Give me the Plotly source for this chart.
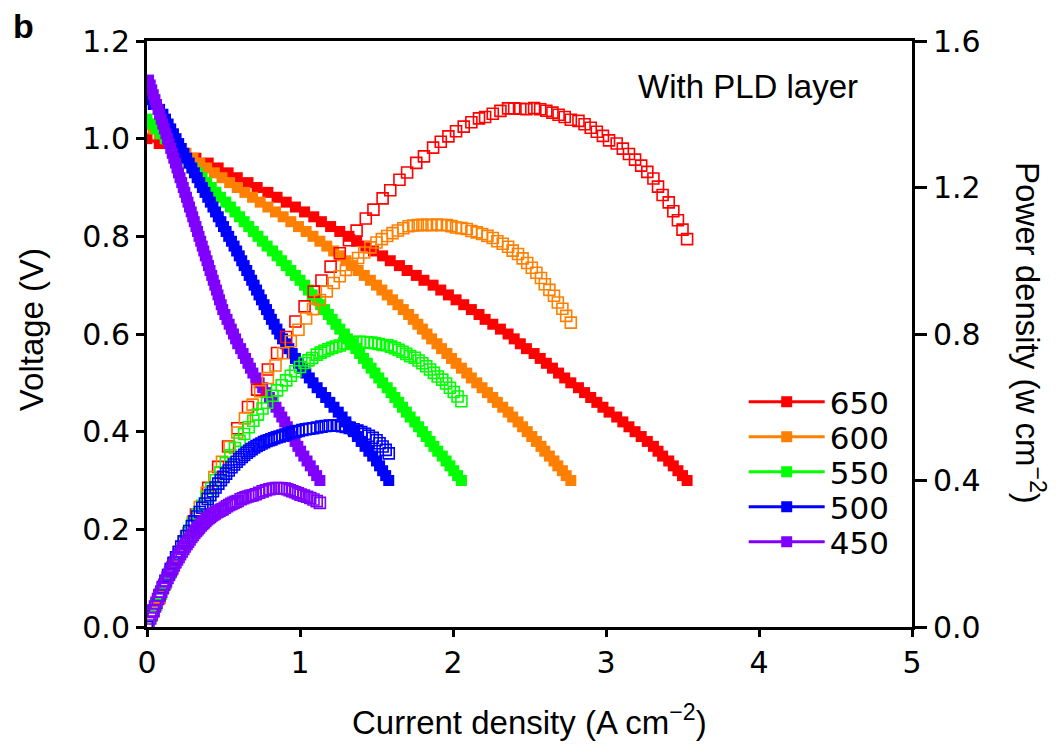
import plotly.graph_objects as go

# Cell voltage levels (V) of the sweeps, 0.01 V apart
volt_levels = [
    1.12, 1.11, 1.10, 1.09, 1.08, 1.07, 1.06, 1.05, 1.04, 1.03,
    1.02, 1.01, 1.00, 0.99, 0.98, 0.97, 0.96, 0.95, 0.94, 0.93,
    0.92, 0.91, 0.90, 0.89, 0.88, 0.87, 0.86, 0.85, 0.84, 0.83,
    0.82, 0.81, 0.80, 0.79, 0.78, 0.77, 0.76, 0.75, 0.74, 0.73,
    0.72, 0.71, 0.70, 0.69, 0.68, 0.67, 0.66, 0.65, 0.64, 0.63,
    0.62, 0.61, 0.60, 0.59, 0.58, 0.57, 0.56, 0.55, 0.54, 0.53,
    0.52, 0.51, 0.50, 0.49, 0.48, 0.47, 0.46, 0.45, 0.44, 0.43,
    0.42, 0.41, 0.40, 0.39, 0.38, 0.37, 0.36, 0.35, 0.34, 0.33,
    0.32, 0.31, 0.30,
]

# Current density (A cm-2) at each voltage level, per temperature (deg C)
j_650 = [
    0.00, 0.08, 0.16, 0.24, 0.32, 0.40, 0.465, 0.53, 0.59, 0.66,
    0.72, 0.79, 0.85, 0.91, 0.97, 1.03, 1.09, 1.14, 1.20, 1.26,
    1.32, 1.37, 1.43, 1.48, 1.54, 1.59, 1.65, 1.70, 1.76, 1.81,
    1.87, 1.92, 1.97, 2.02, 2.07, 2.12, 2.17, 2.21, 2.26, 2.31,
    2.36, 2.40, 2.44, 2.48, 2.53, 2.57, 2.61, 2.65, 2.69, 2.73,
    2.77, 2.82, 2.86, 2.90, 2.94, 2.98, 3.02, 3.07, 3.11, 3.15,
    3.19, 3.23, 3.27, 3.31, 3.34, 3.37, 3.41, 3.44, 3.47, 3.50,
    3.53,
]
j_600 = [
    0.00, 0.04, 0.08, 0.12, 0.165, 0.21, 0.255, 0.30, 0.345, 0.39,
    0.44, 0.49, 0.54, 0.59, 0.64, 0.69, 0.74, 0.79, 0.84, 0.89,
    0.94, 0.99, 1.04, 1.085, 1.13, 1.175, 1.22, 1.26, 1.30, 1.34,
    1.38, 1.42, 1.46, 1.50, 1.535, 1.57, 1.605, 1.64, 1.675, 1.71,
    1.74, 1.77, 1.80, 1.83, 1.86, 1.895, 1.925, 1.96, 1.99, 2.02,
    2.055, 2.09, 2.12, 2.155, 2.19, 2.225, 2.26, 2.29, 2.325, 2.36,
    2.39, 2.425, 2.455, 2.485, 2.515, 2.545, 2.575, 2.60, 2.63, 2.66,
    2.685, 2.715, 2.74, 2.77,
]
j_550 = [
    0.00, 0.03, 0.06, 0.09, 0.12, 0.15, 0.18, 0.21, 0.24, 0.27,
    0.30, 0.33, 0.36, 0.39, 0.42, 0.45, 0.48, 0.515, 0.545, 0.575,
    0.605, 0.635, 0.665, 0.695, 0.725, 0.755, 0.785, 0.82, 0.85, 0.88,
    0.91, 0.94, 0.97, 1.00, 1.03, 1.055, 1.08, 1.11, 1.135, 1.16,
    1.185, 1.21, 1.235, 1.26, 1.29, 1.31, 1.34, 1.365, 1.39, 1.415,
    1.44, 1.465, 1.49, 1.515, 1.54, 1.57, 1.595, 1.62, 1.645, 1.67,
    1.695, 1.72, 1.75, 1.775, 1.80, 1.825, 1.85, 1.875, 1.90, 1.93,
    1.955, 1.98, 2.005, 2.03, 2.055,
]
j_500 = [
    0.00, 0.041, 0.082, 0.104, 0.121, 0.138, 0.155, 0.173, 0.19, 0.207,
    0.224, 0.241, 0.259, 0.276, 0.293, 0.310, 0.328, 0.345, 0.362, 0.379,
    0.397, 0.414, 0.431, 0.448, 0.466, 0.483, 0.50, 0.517, 0.534, 0.552,
    0.569, 0.586, 0.603, 0.619, 0.635, 0.652, 0.668, 0.684, 0.70, 0.716,
    0.732, 0.748, 0.765, 0.781, 0.797, 0.813, 0.831, 0.849, 0.867, 0.886,
    0.906, 0.927, 0.949, 0.97, 0.991, 1.015, 1.038, 1.061, 1.085, 1.112,
    1.14, 1.168, 1.195, 1.222, 1.25, 1.275, 1.30, 1.325, 1.35, 1.375,
    1.40, 1.425, 1.45, 1.475, 1.50, 1.52, 1.54, 1.56, 1.58,
]
j_450 = [
    0.010, 0.021, 0.031, 0.041, 0.052, 0.062, 0.072, 0.082, 0.093, 0.103,
    0.113, 0.124, 0.134, 0.144, 0.155, 0.165, 0.175, 0.186, 0.196, 0.206,
    0.216, 0.227, 0.237, 0.247, 0.258, 0.268, 0.278, 0.289, 0.299, 0.309,
    0.320, 0.330, 0.340, 0.351, 0.361, 0.371, 0.381, 0.392, 0.402, 0.412,
    0.423, 0.433, 0.443, 0.454, 0.464, 0.474, 0.485, 0.495, 0.509, 0.523,
    0.537, 0.551, 0.565, 0.579, 0.593, 0.612, 0.628, 0.644, 0.660, 0.676,
    0.692, 0.711, 0.733, 0.756, 0.778, 0.800, 0.822, 0.843, 0.863, 0.881,
    0.900, 0.917, 0.933, 0.950, 0.968, 0.986, 1.004, 1.025, 1.046, 1.067,
    1.088, 1.109, 1.130,
]

temps = ["650", "600", "550", "500", "450"]
currents = [j_650, j_600, j_550, j_500, j_450]
colors = ["#ff0000", "#ff8000", "#00ff00", "#0000ff", "#8000ff"]

TEXT_FONT = "Liberation Sans, Arial, sans-serif"
NUM_FONT = "DejaVu Sans, Verdana, sans-serif"

fig = go.Figure()

series = []
for name, jd, col in zip(temps, currents, colors):
    volts = volt_levels[len(volt_levels) - len(jd):]
    power = [j * v for j, v in zip(jd, volts)]
    series.append((name, jd, volts, power, col))

# Polarisation curves: filled squares on the voltage axis, one legend box per row
legend_ids = ["legend", "legend2", "legend3", "legend4", "legend5"]
for (name, jd, volts, power, col), lg in zip(series, legend_ids):
    fig.add_trace(go.Scatter(
        x=jd, y=volts, name=name, mode="lines+markers",
        line=dict(color=col, width=3),
        marker=dict(symbol="square", size=11, color=col, line=dict(width=0)),
        yaxis="y", legend=lg,
    ))

# Power density curves: open squares on the right axis
for name, jd, volts, power, col in series:
    fig.add_trace(go.Scatter(
        x=jd, y=power, name=name + " power", mode="markers",
        marker=dict(symbol="square-open", size=11, color=col, line=dict(width=1.6, color=col)),
        yaxis="y2", showlegend=False,
    ))

axis_style = dict(
    showline=True, linewidth=3, linecolor="black",
    ticks="outside", tickwidth=2.5, tickcolor="black",
    showgrid=False, zeroline=False,
    tickfont=dict(family=NUM_FONT, size=30, color="black"),
)

legend_rows = [402, 437, 472, 507, 542]
legend_layouts = {}
for lg, row in zip(legend_ids, legend_rows):
    legend_layouts[lg] = dict(
        x=0.78, xanchor="left", y=(627 - row) / 586, yanchor="middle",
        font=dict(family=NUM_FONT, size=31), bgcolor="rgba(0,0,0,0)",
        itemwidth=76, tracegroupgap=0,
    )

fig.update_layout(
    width=1056, height=748,
    margin=dict(l=147, r=144, t=41, b=121),
    paper_bgcolor="white", plot_bgcolor="white",
    font=dict(family=TEXT_FONT, size=30, color="black"),
    xaxis=dict(range=[0, 5], tickvals=[0, 1, 2, 3, 4, 5], mirror=True, ticklen=7, **axis_style),
    yaxis=dict(range=[0, 1.2], tickvals=[0, 0.2, 0.4, 0.6, 0.8, 1.0, 1.2],
               tickformat=".1f", ticklen=8, **axis_style),
    yaxis2=dict(range=[0, 1.6], tickvals=[0, 0.4, 0.8, 1.2, 1.6], tickformat=".1f",
                overlaying="y", side="right", ticklen=12, **axis_style),
    annotations=[
        dict(text="<b>b</b>", xref="paper", yref="paper", x=-0.162, y=1.025,
             xanchor="center", yanchor="middle", showarrow=False,
             font=dict(family=TEXT_FONT, size=34)),
        dict(text="With PLD layer", xref="paper", yref="paper", x=0.786, y=0.923,
             xanchor="center", yanchor="middle", showarrow=False,
             font=dict(family=TEXT_FONT, size=33)),
        dict(text="Voltage (V)", xref="paper", yref="paper", x=-0.150, y=0.507,
             xanchor="center", yanchor="middle", showarrow=False, textangle=-90,
             font=dict(family=TEXT_FONT, size=33)),
        dict(text="Power density (w cm<sup>\u22122</sup>)", xref="paper", yref="paper",
             x=1.154, y=0.502, xanchor="center", yanchor="middle", showarrow=False,
             textangle=90, font=dict(family=TEXT_FONT, size=33)),
        dict(text="Current density (A cm<sup>\u22122</sup>)", xref="paper", yref="paper",
             x=0.5006, y=-0.159, xanchor="center", yanchor="middle", showarrow=False,
             font=dict(family=TEXT_FONT, size=33)),
    ],
    **legend_layouts,
)

fig.write_html("out.html")
